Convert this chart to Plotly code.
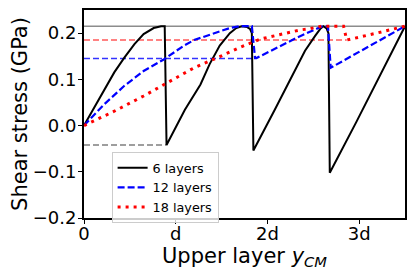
import plotly.graph_objects as go

# --- data (x in units of d, y in GPa) ---
x6 = [0, 0.22, 0.33, 0.44, 0.55, 0.65, 0.76, 0.84, 0.88, 0.90, 1.10, 1.27, 1.37, 1.48, 1.59, 1.66, 1.72, 1.78, 1.81, 1.83, 1.847,
      2.08, 2.30, 2.41, 2.52, 2.58, 2.61, 2.645, 2.665, 2.68, 2.97, 3.21, 3.5]
y6 = [0, 0.078, 0.115, 0.147, 0.176, 0.198, 0.211, 0.215, 0.215, -0.042, 0.034, 0.089, 0.133, 0.173, 0.200, 0.211, 0.215, 0.213, 0.209, 0.200, -0.054,
      0.034, 0.118, 0.162, 0.194, 0.210, 0.215, 0.210, 0.200, -0.102, 0.008, 0.103, 0.215]

x12 = [0, 0.22, 0.44, 0.65, 0.87, 1.09, 1.20, 1.37, 1.59, 1.70, 1.83, 1.865, 1.88, 2.33, 2.59, 2.66, 2.69, 3.5]
y12 = [0, 0.046, 0.086, 0.118, 0.143, 0.173, 0.185, 0.197, 0.211, 0.215, 0.215, 0.146, 0.146, 0.191, 0.214, 0.215, 0.125, 0.215]

x18 = [0, 0.33, 0.65, 0.87, 1.20, 1.48, 1.70, 1.92, 2.15, 2.36, 2.45, 2.59, 2.83, 2.865, 3.17, 3.5]
y18 = [0, 0.031, 0.064, 0.089, 0.125, 0.149, 0.169, 0.187, 0.198, 0.207, 0.209, 0.215, 0.215, 0.185, 0.199, 0.215]

# reference levels
max_level = 0.215
max_x = [0, 3.5]
level12 = 0.145
level12_x = [0, 1.865]
level18 = 0.185
level18_x = [0, 2.865]
level6_min = -0.042
level6_x = [0, 0.90]

xtick_vals = [0, 1, 2, 3]
xtick_text = ["0", "d", "2d", "3d"]
ytick_vals = [-0.2, -0.1, 0.0, 0.1, 0.2]
ytick_text = ["\u22120.2", "\u22120.1", "0.0", "0.1", "0.2"]

fig = go.Figure()

# reference lines
fig.add_trace(go.Scatter(x=max_x, y=[max_level]*2, mode="lines",
                         line=dict(color="#8c8c8c", width=1.5), showlegend=False, hoverinfo="skip"))
fig.add_trace(go.Scatter(x=level18_x, y=[level18]*2, mode="lines",
                         line=dict(color="rgba(255,0,0,0.65)", width=1.5, dash="6px,3px"), showlegend=False, hoverinfo="skip"))
fig.add_trace(go.Scatter(x=level12_x, y=[level12]*2, mode="lines",
                         line=dict(color="rgba(0,0,255,0.8)", width=1.5, dash="6px,3px"), showlegend=False, hoverinfo="skip"))
fig.add_trace(go.Scatter(x=level6_x, y=[level6_min]*2, mode="lines",
                         line=dict(color="#7f7f7f", width=1.5, dash="6px,3px"), showlegend=False, hoverinfo="skip"))

fig.add_trace(go.Scatter(x=x6, y=y6, mode="lines", name="6 layers",
                         line=dict(color="black", width=2)))
fig.add_trace(go.Scatter(x=x12, y=y12, mode="lines", name="12 layers",
                         line=dict(color="#0000ff", width=2.2, dash="7px,3px")))
fig.add_trace(go.Scatter(x=x18, y=y18, mode="lines", name="18 layers",
                         line=dict(color="#ff0000", width=3, dash="3px,5px")))

# page body adds an 8px offset, so the figure is 8px smaller and shifted margins
fig.update_layout(
    width=407, height=267,
    margin=dict(l=76, r=10, t=2, b=57),
    paper_bgcolor="white", plot_bgcolor="white",
    font=dict(family="DejaVu Sans", color="black"),
    legend=dict(x=0.086, y=0.318, xanchor="left", yanchor="top",
                bordercolor="#cccccc", borderwidth=1, bgcolor="rgba(255,255,255,0.8)",
                font=dict(size=12.8), tracegroupgap=0),
)
fig.update_xaxes(range=[0, 3.5], tickvals=xtick_vals, ticktext=xtick_text, automargin=False,
                 showgrid=False, zeroline=False, showline=True, mirror=True,
                 linecolor="black", linewidth=2, ticks="outside", ticklen=4, tickcolor="black",
                 tickfont=dict(size=18), ticklabelstandoff=-6,
                 title=dict(text="Upper layer <i>y</i><sub><i>CM</i></sub>", font=dict(size=21), standoff=3))
fig.update_yaxes(range=[-0.2, 0.25], tickvals=ytick_vals, ticktext=ytick_text, automargin=False,
                 showgrid=False, zeroline=False, showline=True, mirror=True,
                 linecolor="black", linewidth=2, ticks="outside", ticklen=4, tickcolor="black",
                 tickfont=dict(size=18), ticklabelstandoff=-2,
                 title=dict(text="Shear stress (GPa)", font=dict(size=21), standoff=5))

fig.write_html("out.html")
